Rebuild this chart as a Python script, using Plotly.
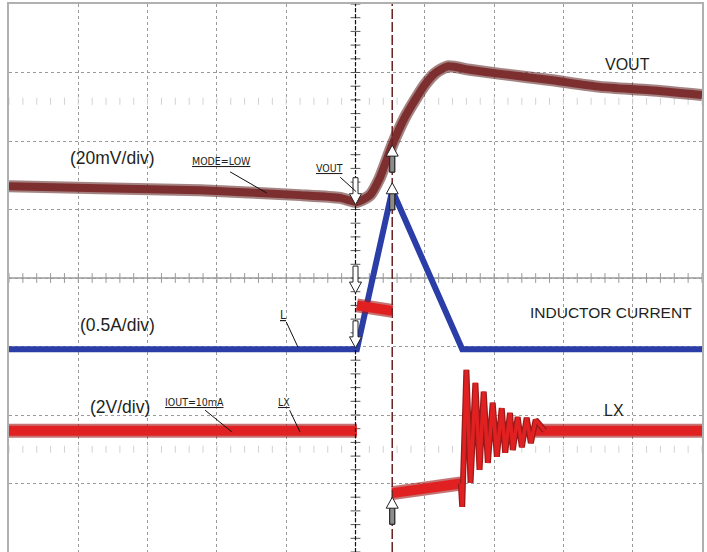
import numpy as np
import plotly.graph_objects as go

# ---- data (time in divisions 0..10, amplitude in divisions 0..8) ----
vout_t = [0, 1.31, 2.76, 4.20, 4.78, 5.02, 5.21, 5.35, 5.53, 5.71, 5.86, 6.00, 6.15, 6.33,
          6.65, 7.09, 7.81, 8.53, 9.25, 10]
vout_v = [5.34, 5.31, 5.28, 5.21, 5.17, 5.11, 5.21, 5.46, 5.94, 6.34, 6.60, 6.82, 6.99, 7.09,
          7.04, 6.98, 6.89, 6.79, 6.74, 6.67]

il_t = [0, 5.02, 5.53, 6.54, 10]
il_v = [2.96, 2.96, 5.28, 2.96, 2.96]

# LX switching node: flat / high / low segments (thick noisy band)
lx_pre_t = [0, 5.02]
lx_pre_v = [1.77, 1.77]
lx_high_t = [5.02, 5.53]
lx_high_v = [3.60, 3.52]
lx_low_t = [5.53, 6.52]
lx_low_v = [0.86, 1.00]
lx_post_t = [7.55, 10]
lx_post_v = [1.77, 1.77]
# LX ringing after inductor current reaches zero
lx_ring_t = [6.52, 6.54, 6.60, 6.66, 6.73, 6.79, 6.85, 6.91, 6.98, 7.04, 7.11, 7.16, 7.23,
             7.27, 7.34, 7.40, 7.47, 7.53, 7.60, 7.73]
lx_ring_v = [1.00, 0.66, 2.66, 1.01, 2.47, 1.20, 2.34, 1.30, 2.18, 1.39, 2.10, 1.45, 2.03,
             1.49, 1.97, 1.53, 1.96, 1.59, 1.93, 1.77]

cursor_t = [5.0, 5.53]

C_VOUT = "#7d2e2e"
C_IL = "#2b3ea8"
C_LX = "#e12121"
TXT = "#231f20"

fig = go.Figure()

# graticule minor ticks on centre axes
minor_x = np.round(np.arange(0, 10.001, 0.2), 3)
minor_y = np.round(np.arange(0, 8.001, 0.2), 3)
fig.add_trace(go.Scatter(x=minor_x, y=[4] * len(minor_x), mode="markers",
                         marker=dict(symbol="line-ns", size=7, line=dict(color="#9a9a9a", width=1)),
                         hoverinfo="skip"))
for yy in (6.58, 1.5):
    fig.add_trace(go.Scatter(x=minor_x, y=[yy] * len(minor_x), mode="markers",
                             marker=dict(symbol="line-ns", size=5, line=dict(color="#d2d2d2", width=1)),
                             hoverinfo="skip"))
fig.add_trace(go.Scatter(x=[5.0] * len(minor_y), y=minor_y, mode="markers",
                         marker=dict(symbol="line-ew", size=7, line=dict(color="#555555", width=1)),
                         hoverinfo="skip"))

# VOUT
fig.add_trace(go.Scatter(x=vout_t, y=vout_v, mode="lines",
                         line=dict(color="#5a1f1f", width=12, shape="spline", smoothing=0.6),
                         opacity=0.55, hoverinfo="skip"))
fig.add_trace(go.Scatter(x=vout_t, y=vout_v, mode="lines",
                         line=dict(color=C_VOUT, width=8, shape="spline", smoothing=0.6),
                         hoverinfo="skip"))

# Inductor current
fig.add_trace(go.Scatter(x=il_t, y=il_v, mode="lines",
                         line=dict(color=C_IL, width=6), hoverinfo="skip"))

# LX
seg_t = lx_pre_t + [None] + lx_high_t + [None] + lx_low_t + [None] + lx_post_t
seg_v = lx_pre_v + [None] + lx_high_v + [None] + lx_low_v + [None] + lx_post_v
fig.add_trace(go.Scatter(x=seg_t, y=seg_v, mode="lines",
                         line=dict(color="#a01818", width=14), opacity=0.6, hoverinfo="skip"))
fig.add_trace(go.Scatter(x=seg_t, y=seg_v, mode="lines",
                         line=dict(color=C_LX, width=10), hoverinfo="skip"))
fig.add_trace(go.Scatter(x=lx_ring_t, y=lx_ring_v, mode="lines",
                         line=dict(color="#9a1a1a", width=6), hoverinfo="skip"))
fig.add_trace(go.Scatter(x=lx_ring_t, y=lx_ring_v, mode="lines",
                         line=dict(color=C_LX, width=3.5), hoverinfo="skip"))

shapes = []
# centre horizontal line
shapes.append(dict(type="line", xref="x", yref="y", x0=0, x1=10, y0=4, y1=4,
                   line=dict(color="#9a9a9a", width=1.5), layer="below"))
# cursors
shapes.append(dict(type="line", xref="x", yref="y", x0=cursor_t[0], x1=cursor_t[0], y0=0, y1=8,
                   line=dict(color="#111111", width=1.2, dash="4px,2px")))
shapes.append(dict(type="line", xref="x", yref="y", x0=cursor_t[1], x1=cursor_t[1], y0=0, y1=8,
                   line=dict(color="#6b2020", width=1.5, dash="10px,3px")))

# block arrows (pixel-sized, anchored at data points)
ARROW_DOWN = "M-2.5,27 L2.5,27 L2.5,11 L6,11 L0,0 L-6,11 L-2.5,11 Z"
ARROW_UP = "M-2.5,-27 L2.5,-27 L2.5,-11 L6,-11 L0,0 L-6,-11 L-2.5,-11 Z"
STEM_UP = "M-2.5,-27 L2.5,-27 L2.5,-11 L-2.5,-11 Z"
for ay in (5.07, 3.78, 2.98):
    shapes.append(dict(type="path", xref="x", yref="y", xsizemode="pixel", ysizemode="pixel",
                       xanchor=cursor_t[0], yanchor=ay, path=ARROW_DOWN,
                       fillcolor="white", line=dict(color="#222222", width=1)))
for ay in (5.94, 5.39, 0.80):
    shapes.append(dict(type="path", xref="x", yref="y", xsizemode="pixel", ysizemode="pixel",
                       xanchor=cursor_t[1], yanchor=ay, path=ARROW_UP,
                       fillcolor="white", line=dict(color="#222222", width=1)))
    shapes.append(dict(type="path", xref="x", yref="y", xsizemode="pixel", ysizemode="pixel",
                       xanchor=cursor_t[1], yanchor=ay, path=STEM_UP,
                       fillcolor="#8c8c8c", line=dict(color="#222222", width=1)))

# leader lines for small labels
leaders = [((3.19, 5.55), (3.72, 5.24)),
           ((4.78, 5.47), (5.01, 5.26)),
           ((4.00, 3.36), (4.17, 2.99)),
           ((2.83, 2.07), (3.22, 1.75)),
           ((4.05, 2.07), (4.20, 1.75))]
for (a, b) in leaders:
    shapes.append(dict(type="line", xref="x", yref="y", x0=a[0], y0=a[1], x1=b[0], y1=b[1],
                       line=dict(color="#111111", width=1)))

BIG = "Liberation Sans, Arial, sans-serif"
SMALL = "Liberation Sans Narrow, DejaVu Sans Condensed, Arial Narrow, sans-serif"
annotations = [
    dict(x=8.93, y=7.11, text="VOUT", font=dict(size=16, family=BIG, color=TXT)),
    dict(x=8.69, y=3.49, text="INDUCTOR CURRENT", font=dict(size=15.5, family=BIG, color=TXT)),
    dict(x=8.73, y=2.06, text="LX", font=dict(size=16, family=BIG, color=TXT)),
    dict(x=1.49, y=5.75, text="(20mV/div)", font=dict(size=17.5, family=BIG, color=TXT)),
    dict(x=1.56, y=3.31, text="(0.5A/div)", font=dict(size=17.5, family=BIG, color=TXT)),
    dict(x=1.60, y=2.12, text="(2V/div)", font=dict(size=17.5, family=BIG, color=TXT)),
    dict(x=3.07, y=5.71, text="<u>MODE=LOW</u>", font=dict(size=10.5, family=SMALL, color=TXT)),
    dict(x=4.63, y=5.61, text="<u>VOUT</u>", font=dict(size=10.5, family=SMALL, color=TXT)),
    dict(x=3.95, y=3.46, text="<u>L</u>", font=dict(size=12, family=SMALL, color=TXT)),
    dict(x=2.68, y=2.19, text="<u>IOUT=10mA</u>", font=dict(size=10.5, family=SMALL, color=TXT)),
    dict(x=3.97, y=2.19, text="<u>LX</u>", font=dict(size=10.5, family=SMALL, color=TXT)),
]
for a in annotations:
    a.update(xref="x", yref="y", showarrow=False)

fig.update_layout(width=707, height=552, margin=dict(l=9, r=5, t=4, b=0),
                  paper_bgcolor="white", plot_bgcolor="white", showlegend=False,
                  shapes=shapes, annotations=annotations)
axis_common = dict(showgrid=True, gridcolor="#9a9a9a", griddash="dot", gridwidth=1,
                   zeroline=False, showticklabels=False, ticks="", showline=True,
                   linecolor="#b0b0b0", linewidth=2, mirror=True, fixedrange=True)
fig.update_xaxes(range=[0, 10], dtick=1, **axis_common)
fig.update_yaxes(range=[0, 8], dtick=1, **axis_common)

fig.write_html("out.html", config={"displayModeBar": False},
               post_script="document.body.style.margin='0px';document.body.style.overflow='hidden';")
